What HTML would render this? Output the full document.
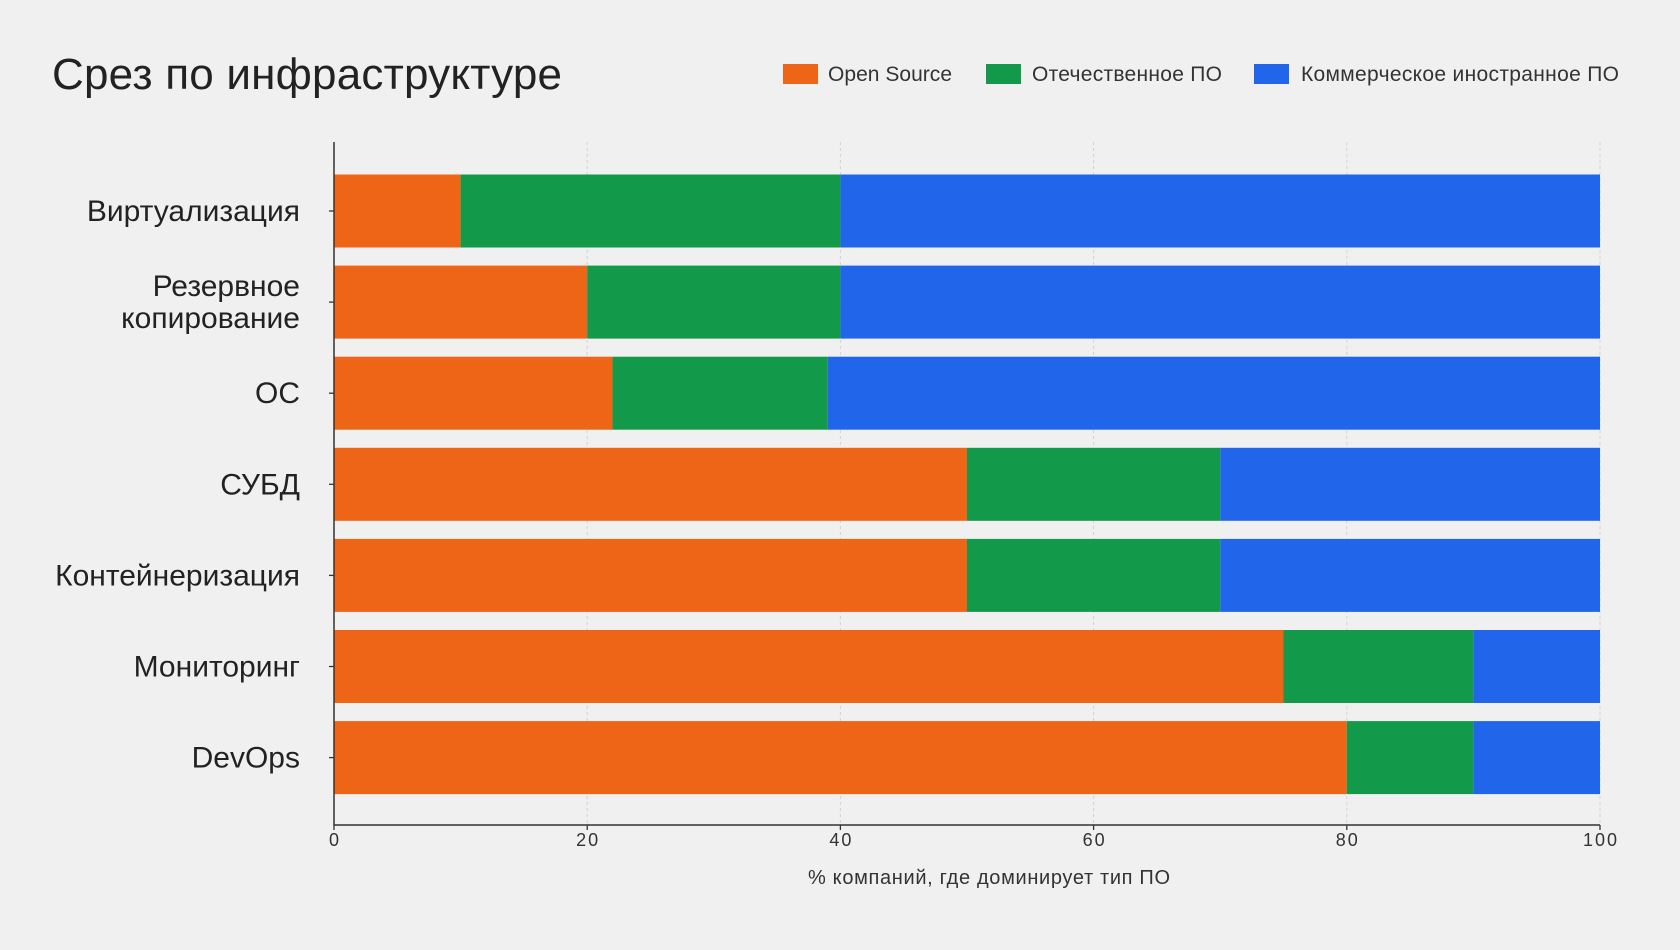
<!DOCTYPE html>
<html><head><meta charset="utf-8"><style>
body{margin:0;background:#f0f0f0;width:1680px;height:945px;overflow:hidden;font-family:"Liberation Sans","DejaVu Sans",sans-serif;}
</style></head><body>
<svg width="1680" height="945" xmlns="http://www.w3.org/2000/svg">
<rect width="1680" height="945" fill="#f0f0f0"/>
<text x="52" y="89" font-size="44" textLength="510" lengthAdjust="spacing" fill="#222">Срез по инфраструктуре</text>
<g id="legend" font-size="21" fill="#333">
<rect x="783" y="64" width="35" height="20" fill="#EE6518"/>
<text x="828" y="81" textLength="124" lengthAdjust="spacing">Open Source</text>
<rect x="986" y="64" width="35" height="20" fill="#12994A"/>
<text x="1032" y="81" textLength="190" lengthAdjust="spacing">Отечественное ПО</text>
<rect x="1254" y="64" width="35" height="20" fill="#2166EA"/>
<text x="1301" y="81" textLength="318" lengthAdjust="spacing">Коммерческое иностранное ПО</text>
</g>
<g id="grid"></g>
<g id="bars"></g>
<g id="axes"></g>
<text x="808" y="884" font-size="20" textLength="362" lengthAdjust="spacing" fill="#333">% компаний, где доминирует тип ПО</text>
</svg>
<script>
const categories=["Виртуализация","Резервное|копирование","ОС","СУБД","Контейнеризация","Мониторинг","DevOps"];
const openSource=[10,20,22,50,50,75,80];
const domestic=[30,20,17,20,20,15,10];
const foreign=[60,60,61,30,30,10,10];
const ticks=[0,20,40,60,80,100];
const colors=["#EE6518","#12994A","#2166EA"];
const NS="http://www.w3.org/2000/svg";
const x0=334,x1=1600,yTop=142,yAxis=825,firstCenter=211,pitch=91.1,bh=73;
const xs=v=>x0+(x1-x0)*v/100;
const yc=i=>firstCenter+i*pitch;
function mk(t,a,p){const e=document.createElementNS(NS,t);for(const k in a)e.setAttribute(k,a[k]);p.appendChild(e);return e;}
const grid=document.getElementById('grid'),bars=document.getElementById('bars'),axes=document.getElementById('axes');
ticks.forEach(t=>{
 if(t>0){const l=mk('line',{x1:xs(t),x2:xs(t),y1:yTop,y2:yAxis,stroke:'#d2d2d2','stroke-width':1,'stroke-dasharray':'3,3'},grid);
 
 }
 const tk=mk('line',{x1:xs(t),x2:xs(t),y1:yAxis,y2:yAxis+5,stroke:'#333','stroke-width':1.3},axes);
 
 
 const tx=mk('text',{x:xs(t)+1,y:yAxis+21,'font-size':18,fill:'#333','text-anchor':'middle','letter-spacing':'2'},axes);
 tx.textContent=t;
 
 
});
categories.forEach((c,i)=>{
 const vals=[openSource[i],domestic[i],foreign[i]];let acc=0;
 vals.forEach((v,j)=>{
  const r=mk('rect',{x:xs(acc),y:yc(i)-bh/2,width:xs(acc+v)-xs(acc),height:bh,fill:colors[j]},bars);
  
  
  acc+=v;
 });
 const tk=mk('line',{x1:x0-5,x2:x0,y1:yc(i),y2:yc(i),stroke:'#333','stroke-width':1.3},axes);
 
 
 const lines=c.split('|');
 lines.forEach((ln,k)=>{
  const t=mk('text',{x:300,y:yc(i)+10+(k-(lines.length-1)/2)*32,'font-size':30,fill:'#222','text-anchor':'end'},axes);
  t.textContent=ln;
  
  
 });
});
const ax=mk('path',{d:`M${x0},${yTop}V${yAxis}H${x1}`,fill:'none',stroke:'#333','stroke-width':1.5},axes);


</script>
</body></html>
